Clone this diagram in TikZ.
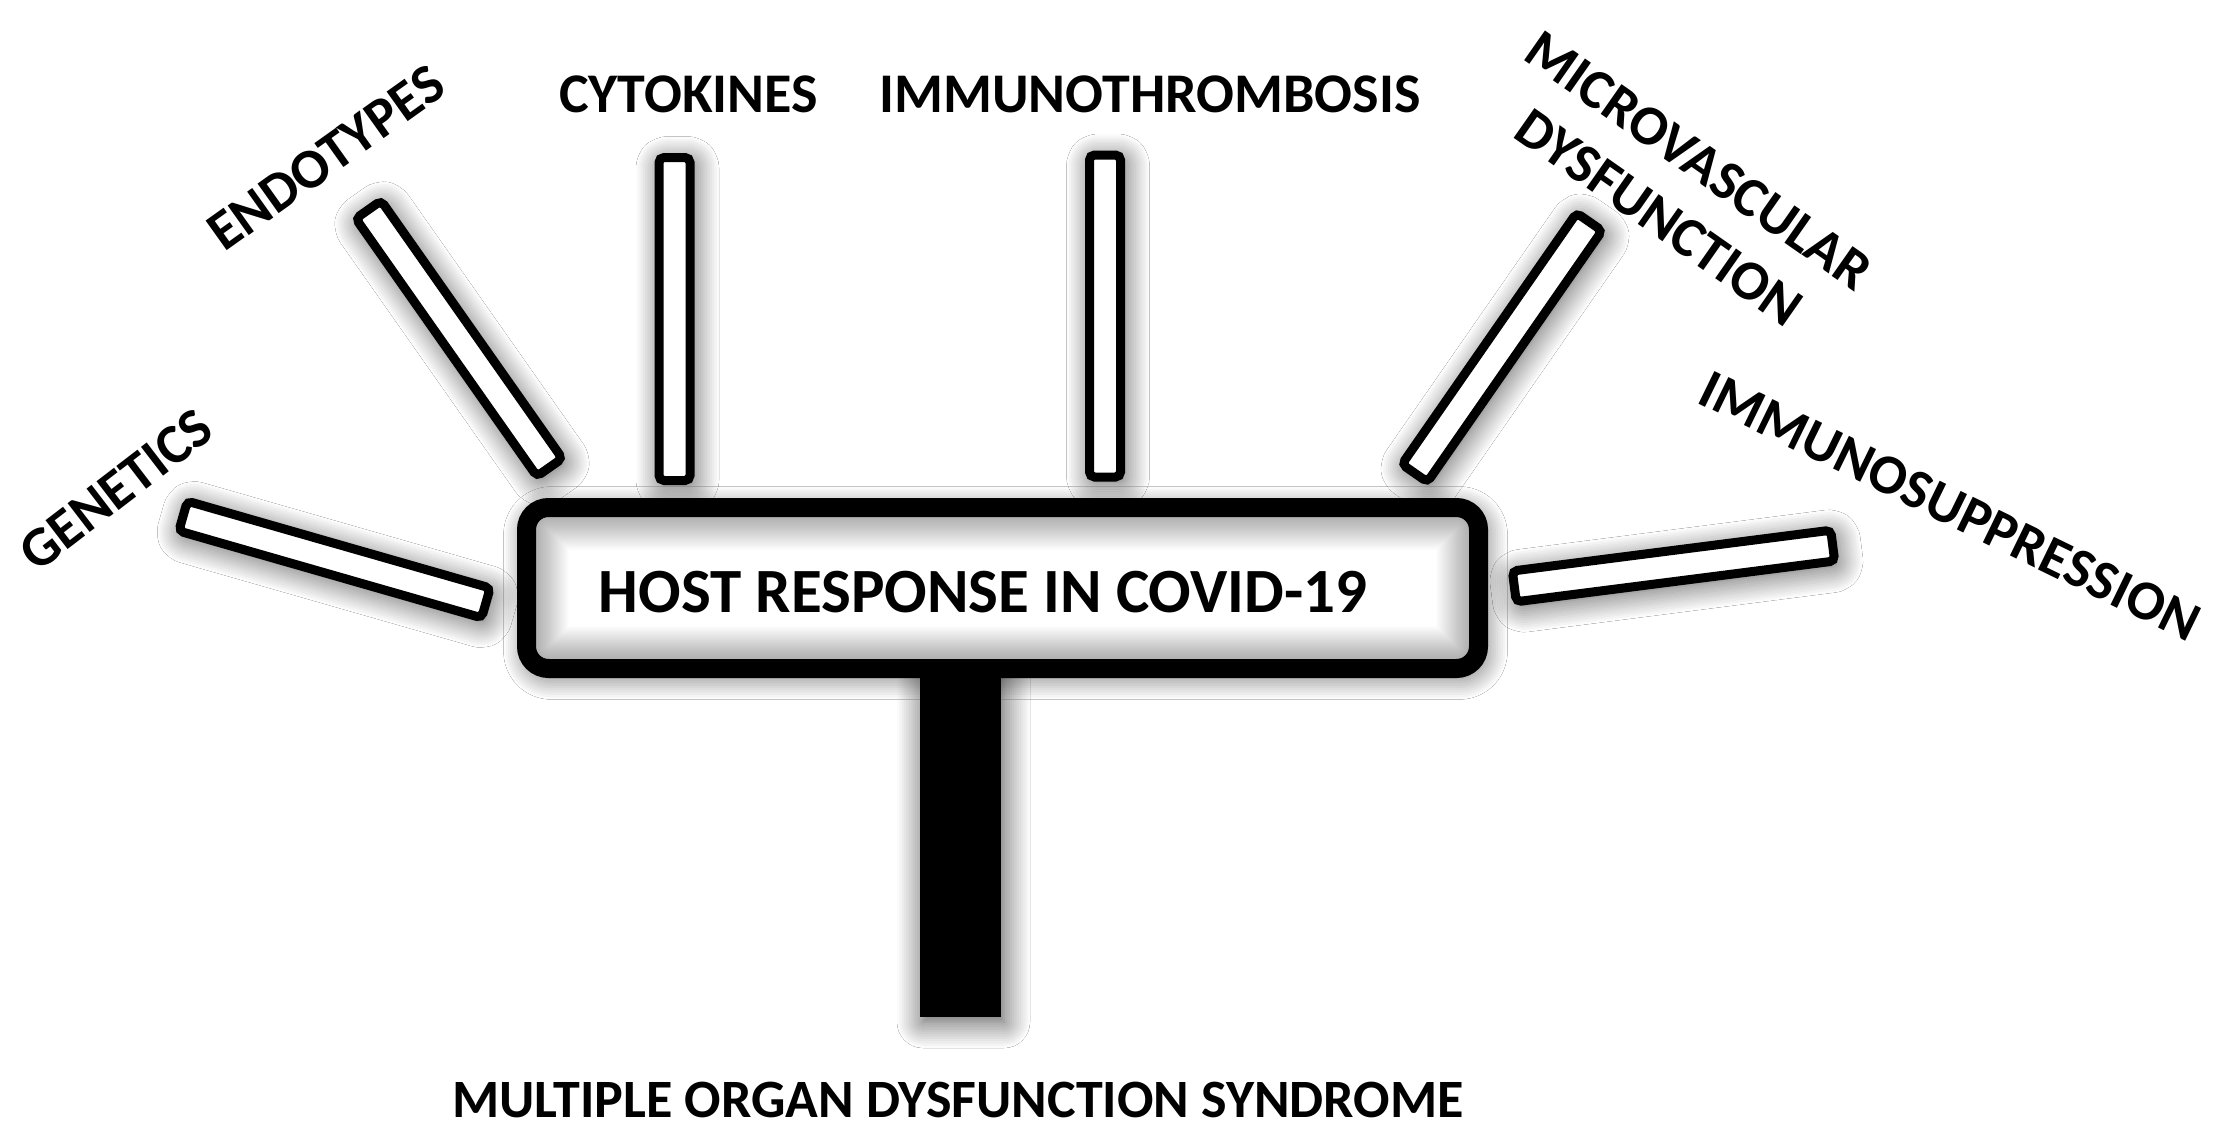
\documentclass[tikz,border=0pt]{standalone}
\usepackage{fontspec}
\setmainfont{Carlito}
\usetikzlibrary{shadows.blur}
\begin{document}
\begin{tikzpicture}[x=1pt,y=-1pt,
  softshadow/.style={blur shadow={shadow xshift=3pt, shadow yshift=-5pt, shadow blur radius=26pt, shadow blur steps=12, shadow opacity=70}},
  barbox/.style={draw=black, line width=9pt, fill=white, rounded corners=5pt,
    minimum height=31pt, inner sep=0pt, outer sep=0pt, softshadow},
  lbl/.style={font=\fontsize{56}{69}\selectfont\bfseries, inner sep=0pt, text=black},
  hostbox/.style={draw=black, line width=19pt, rounded corners=22pt, fill=white,
    minimum width=952pt, minimum height=161pt, inner sep=0pt, softshadow,
    path picture={
      \foreach \w in {84,80,...,24} {
        \draw[black, opacity=0.02, line width=\w pt, rounded corners=22pt]
          (path picture bounding box.south west) rectangle (path picture bounding box.north east);
      }
    }},
  stembox/.style={fill=black, draw=none, minimum width=81pt, minimum height=349pt, inner sep=0pt, softshadow}
]
\useasboundingbox (0,0) rectangle (2228,1143);
\fill[white] (0,0) rectangle (2228,1143);

% bars
\node[barbox, minimum width=315pt, rotate=-16] (bgen) at (334.5,559.5) {};
\node[barbox, minimum width=315pt, rotate=-54.9] (bend) at (459,338.5) {};
\node[barbox, minimum width=323pt, rotate=90] (bcyt) at (674.5,319) {};
\node[barbox, minimum width=322pt, rotate=90] (bimt) at (1105,316) {};
\node[barbox, minimum width=306pt, rotate=55.2] (bmic) at (1502,347.5) {};
\node[barbox, minimum width=321pt, rotate=7.3] (bims) at (1673.5,566) {};

% stem and host box
\node[stembox] (stem) at (960.5,842.5) {};
\node[hostbox] (host) at (1002.5,588) {};
\node[inner sep=0pt, font=\fontsize{63}{70}\selectfont\bfseries] (hosttext) at (983,592) {HOST RESPONSE IN COVID-19};

% labels
\node[lbl, rotate=37.5] (lgen) at (116,490) {GENETICS};
\node[lbl, rotate=35.5] (lend) at (326,158) {ENDOTYPES};
\node[lbl] (lcyt) at (688.5,94) {CYTOKINES};
\node[lbl] (limt) at (1150,94) {IMMUNOTHROMBOSIS};
\node[lbl, rotate=-35, align=center] (lmic) at (1679,189) {MICROVASCULAR\\DYSFUNCTION};
\node[lbl, rotate=-26] (lims) at (1950,506) {IMMUNOSUPPRESSION};
\node[inner sep=0pt, font=\fontsize{54}{66}\selectfont\bfseries, anchor=base] (lmods) at (958,1117) {MULTIPLE ORGAN DYSFUNCTION SYNDROME};
\end{tikzpicture}
\end{document}
